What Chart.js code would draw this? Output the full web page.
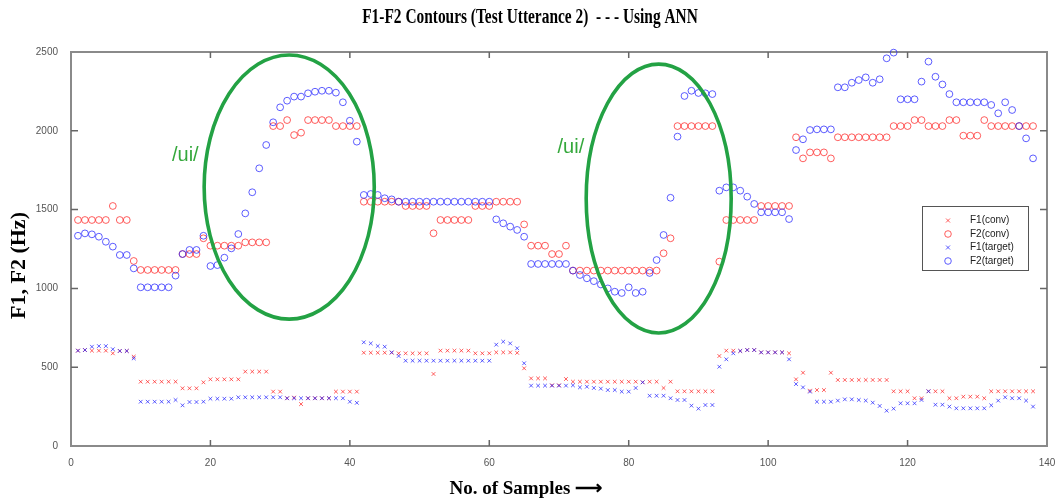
<!DOCTYPE html>
<html>
<head>
<meta charset="utf-8">
<script src="https://cdn.jsdelivr.net/npm/chart.js@4.4.1/dist/chart.umd.min.js"></script>
<style>
  html, body { margin: 0; padding: 0; background: #fff; }
</style>
</head>
<body>
<canvas id="grafico" width="1059" height="504"></canvas>
<script>
// valores (amostras 1..138)
const f1Conv = [
  605, 609, 605, 605, 605, 588, 603, 603, 567, 408,
  408, 408, 408, 408, 408, 366, 366, 366, 404, 423,
  423, 423, 423, 423, 472, 472, 472, 472, 345, 345,
  303, 307, 266, 303, 303, 303, 303, 345, 345, 345,
  345, 592, 592, 592, 592, 592, 588, 588, 588, 588,
  588, 457, 605, 605, 605, 605, 605, 588, 588, 588,
  594, 594, 594, 591, 493, 429, 429, 429, 385, 385,
  425, 408, 408, 408, 408, 408, 408, 408, 408, 408,
  408, 404, 408, 408, 368, 408, 347, 347, 347, 347,
  347, 347, 571, 605, 605, 603, 609, 609, 594, 594,
  594, 594, 588, 423, 465, 351, 355, 355, 465, 419,
  419, 419, 419, 419, 419, 419, 419, 347, 347, 347,
  303, 303, 347, 347, 347, 303, 303, 313, 313, 313,
  303, 347, 347, 347, 347, 347, 347, 347
];
const f2Conv = [
  1434, 1434, 1434, 1434, 1434, 1523, 1434, 1434, 1174, 1117,
  1117, 1117, 1117, 1117, 1117, 1218, 1218, 1218, 1318, 1271,
  1271, 1271, 1271, 1271, 1292, 1292, 1292, 1292, 2030, 2030,
  2068, 1973, 1988, 2068, 2068, 2068, 2068, 2030, 2030, 2030,
  2030, 1550, 1550, 1550, 1550, 1550, 1550, 1523, 1523, 1523,
  1523, 1350, 1434, 1434, 1434, 1434, 1434, 1523, 1523, 1523,
  1550, 1550, 1550, 1550, 1406, 1271, 1271, 1271, 1218, 1218,
  1271, 1113, 1113, 1113, 1113, 1113, 1113, 1113, 1113, 1113,
  1113, 1113, 1113, 1113, 1223, 1318, 2030, 2030, 2030, 2030,
  2030, 2030, 1170, 1434, 1434, 1434, 1434, 1434, 1523, 1523,
  1523, 1523, 1523, 1959, 1825, 1863, 1863, 1863, 1825, 1959,
  1959, 1959, 1959, 1959, 1959, 1959, 1959, 2030, 2030, 2030,
  2068, 2068, 2030, 2030, 2030, 2068, 2068, 1969, 1969, 1969,
  2068, 2030, 2030, 2030, 2030, 2030, 2030, 2030
];
const f1Target = [
  605, 609, 630, 634, 634, 614, 603, 603, 556, 281,
  281, 281, 281, 281, 292, 258, 279, 279, 281, 300,
  300, 300, 300, 309, 309, 309, 309, 309, 309, 309,
  303, 303, 303, 303, 303, 303, 303, 303, 303, 281,
  274, 658, 651, 634, 630, 594, 571, 541, 541, 541,
  541, 541, 541, 541, 541, 541, 541, 541, 541, 541,
  643, 662, 651, 620, 525, 383, 383, 383, 383, 383,
  383, 385, 372, 376, 368, 364, 355, 355, 345, 345,
  368, 404, 319, 319, 319, 303, 292, 292, 256, 237,
  260, 260, 503, 550, 588, 603, 609, 609, 594, 594,
  594, 594, 550, 393, 372, 345, 281, 281, 281, 288,
  296, 296, 292, 288, 275, 254, 224, 237, 271, 271,
  271, 292, 347, 262, 262, 250, 239, 239, 239, 239,
  239, 258, 288, 309, 303, 303, 288, 250
];
const f2Target = [
  1334, 1349, 1343, 1328, 1296, 1265, 1212, 1212, 1127, 1007,
  1007, 1007, 1007, 1007, 1081, 1218, 1244, 1244, 1334, 1142,
  1148, 1195, 1254, 1345, 1476, 1610, 1762, 1910, 2054, 2149,
  2191, 2217, 2217, 2238, 2248, 2254, 2254, 2242, 2181, 2064,
  1931, 1593, 1599, 1593, 1572, 1565, 1550, 1550, 1550, 1550,
  1550, 1550, 1550, 1550, 1550, 1550, 1550, 1550, 1550, 1550,
  1438, 1413, 1392, 1371, 1328, 1155, 1155, 1155, 1155, 1155,
  1155, 1113, 1085, 1064, 1046, 1025, 1000, 979, 971, 1007,
  971, 979, 1098, 1180, 1339, 1575, 1963, 2221, 2254, 2240,
  2238, 2233, 1620, 1641, 1641, 1620, 1582, 1536, 1483, 1483,
  1483, 1483, 1440, 1878, 1946, 2005, 2009, 2009, 2009, 2276,
  2276, 2305, 2322, 2339, 2305, 2327, 2460, 2496, 2200, 2200,
  2200, 2312, 2439, 2343, 2294, 2233, 2181, 2181, 2181, 2181,
  2181, 2164, 2111, 2181, 2132, 2030, 1952, 1825
];
const xTicks = [0, 20, 40, 60, 80, 100, 120, 140];
const yTicks = [0, 500, 1000, 1500, 2000, 2500];

// anotacoes (elipses verdes e /ui/) em coordenadas de dados
const elipses = [
  { cx: 31.3, cy: 1643, rx: 12.2, ry: 838 },
  { cx: 84.3, cy: 1570, rx: 10.4, ry: 853 }
];
const rotulos = [
  { x: 16.4, y: 1846, text: '/ui/' },
  { x: 71.7, y: 1897, text: '/ui/' }
];

const titulo = 'F1-F2 Contours (Test Utterance 2)  - - - Using ANN';
const vermelho = 'rgba(255, 40, 40, 0.75)';
const azul = 'rgba(40, 40, 255, 0.75)';
const verde = '#23a244';
const serif = '"Liberation Serif", "Times New Roman", serif';
const sans = '"Liberation Sans", Arial, sans-serif';

function pontos(vals) {
  return vals.map((v, i) => ({ x: i + 1, y: v }));
}

const moldura = {
  id: 'moldura',
  beforeDatasetsDraw(chart) {
    const { ctx, chartArea: a, scales } = chart;
    ctx.save();
    // titulo em fonte condensada
    ctx.fillStyle = '#000';
    ctx.font = 'bold 20px ' + serif;
    ctx.textAlign = 'center';
    ctx.textBaseline = 'middle';
    ctx.translate(530, 18);
    ctx.scale(0.77, 1);
    ctx.fillText(titulo, 0, 0);
    ctx.setTransform(1, 0, 0, 1, 0, 0);

    ctx.strokeStyle = '#8a8a8a';
    ctx.lineWidth = 2;
    ctx.strokeRect(a.left, a.top, a.right - a.left, a.bottom - a.top);
    ctx.lineWidth = 1.5;
    ctx.strokeStyle = '#666';
    ctx.beginPath();
    xTicks.slice(1, -1).forEach(t => {
      const px = scales.x.getPixelForValue(t);
      ctx.moveTo(px, a.bottom); ctx.lineTo(px, a.bottom - 6);
      ctx.moveTo(px, a.top); ctx.lineTo(px, a.top + 6);
    });
    yTicks.slice(1, -1).forEach(t => {
      const py = scales.y.getPixelForValue(t);
      ctx.moveTo(a.left, py); ctx.lineTo(a.left + 7, py);
      ctx.moveTo(a.right, py); ctx.lineTo(a.right - 7, py);
    });
    ctx.stroke();
    ctx.restore();
  },
  afterDatasetsDraw(chart) {
    const { ctx, scales } = chart;
    const sx = scales.x, sy = scales.y;
    ctx.save();
    ctx.strokeStyle = verde;
    ctx.lineWidth = 3.6;
    elipses.forEach(e => {
      const cx = sx.getPixelForValue(e.cx);
      const cy = sy.getPixelForValue(e.cy);
      const rx = Math.abs(sx.getPixelForValue(e.cx + e.rx) - cx);
      const ry = Math.abs(sy.getPixelForValue(e.cy + e.ry) - cy);
      ctx.beginPath();
      ctx.ellipse(cx, cy, rx, ry, 0, 0, Math.PI * 2);
      ctx.stroke();
    });
    ctx.fillStyle = '#35a83c';
    ctx.font = '20px ' + sans;
    ctx.textAlign = 'center';
    ctx.textBaseline = 'middle';
    rotulos.forEach(r => {
      ctx.fillText(r.text, sx.getPixelForValue(r.x), sy.getPixelForValue(r.y));
    });

    // legenda
    const bx = 922, by = 206, bw = 106, bh = 64;
    ctx.fillStyle = '#fff';
    ctx.fillRect(bx, by, bw, bh);
    ctx.strokeStyle = '#555';
    ctx.lineWidth = 1;
    ctx.strokeRect(bx + 0.5, by + 0.5, bw, bh);
    ctx.font = '10px ' + sans;
    ctx.textAlign = 'left';
    chart.data.datasets.forEach((ds, i) => {
      const y = by + 14.5 + i * 13.5;
      const px = bx + 26;
      ctx.strokeStyle = ds.borderColor;
      ctx.lineWidth = 1;
      ctx.beginPath();
      if (ds.pointStyle === 'crossRot') {
        ctx.moveTo(px - 2, y - 2); ctx.lineTo(px + 2, y + 2);
        ctx.moveTo(px + 2, y - 2); ctx.lineTo(px - 2, y + 2);
      } else {
        ctx.arc(px, y, 3.3, 0, Math.PI * 2);
      }
      ctx.stroke();
      ctx.fillStyle = '#222';
      ctx.fillText(ds.label, bx + 48, y);
    });
    ctx.restore();
  }
};

new Chart(document.getElementById('grafico'), {
  type: 'scatter',
  data: {
    datasets: [
      { label: 'F1(conv)', data: pontos(f1Conv), pointStyle: 'crossRot', pointRadius: 2.6,
        borderColor: vermelho, backgroundColor: 'transparent', borderWidth: 1, order: 1, clip: false },
      { label: 'F2(conv)', data: pontos(f2Conv), pointStyle: 'circle', pointRadius: 3.4,
        borderColor: vermelho, backgroundColor: 'transparent', borderWidth: 1, order: 1, clip: false },
      { label: 'F1(target)', data: pontos(f1Target), pointStyle: 'crossRot', pointRadius: 2.6,
        borderColor: azul, backgroundColor: 'transparent', borderWidth: 1, order: 0, clip: false },
      { label: 'F2(target)', data: pontos(f2Target), pointStyle: 'circle', pointRadius: 3.4,
        borderColor: azul, backgroundColor: 'transparent', borderWidth: 1, order: 0, clip: false }
    ]
  },
  options: {
    responsive: false,
    animation: false,
    events: [],
    layout: { padding: { left: 0, right: 12, top: 52, bottom: 0 } },
    plugins: {
      legend: { display: false },
      tooltip: { enabled: false },
      title: { display: false }
    },
    scales: {
      x: {
        type: 'linear', min: 0, max: 140,
        afterBuildTicks: s => { s.ticks = xTicks.map(v => ({ value: v })); },
        afterFit: s => { s.height = 58; },
        grid: { display: false },
        border: { display: false },
        ticks: { color: '#555', padding: 3, font: { family: sans, size: 10 }, callback: v => String(v) },
        title: {
          display: true, text: 'No. of Samples \u27F6\u2003\u2003\u2003\u2002', color: '#000',
          font: { family: serif, size: 19, weight: 'bold' },
          padding: { top: 0, bottom: 4 }
        }
      },
      y: {
        type: 'linear', min: 0, max: 2500,
        afterBuildTicks: s => { s.ticks = yTicks.map(v => ({ value: v })); },
        afterFit: s => { s.width = 71; },
        grid: { display: false },
        border: { display: false },
        ticks: { color: '#555', padding: 5, font: { family: sans, size: 10 }, callback: v => String(v) },
        title: {
          display: true, text: 'F1, F2 (Hz)\u2003\u2002', color: '#000',
          font: { family: serif, size: 22, weight: 'bold' },
          padding: { top: 6, bottom: 0 }
        }
      }
    }
  },
  plugins: [moldura]
});
</script>
</body>
</html>
